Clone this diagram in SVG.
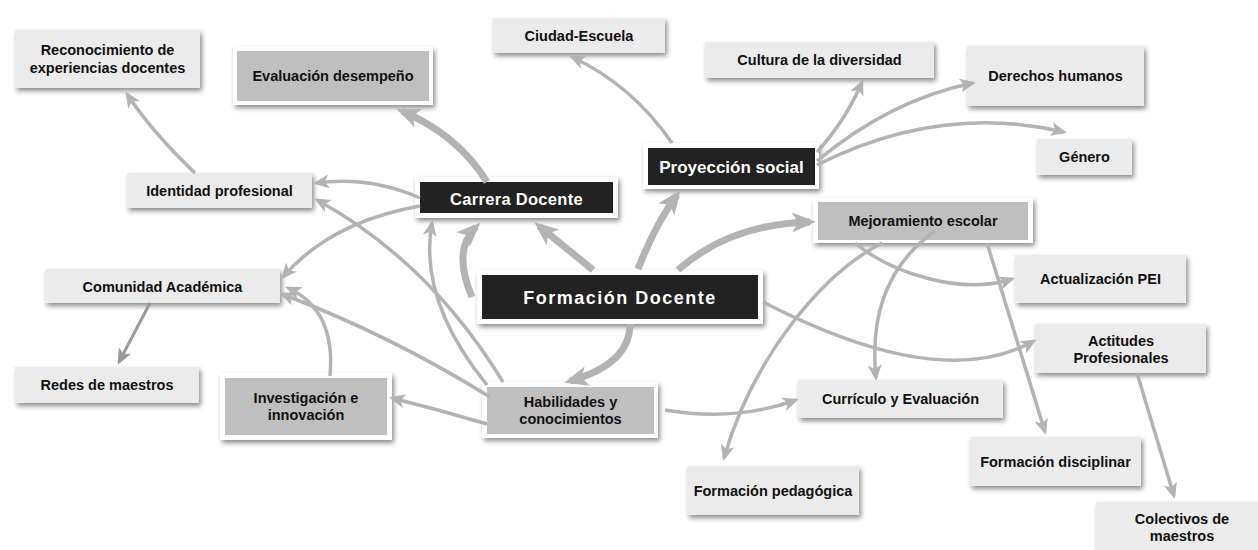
<svg xmlns="http://www.w3.org/2000/svg" width="1258" height="550" viewBox="0 0 1258 550">
  <defs>
    <filter id="shadow" x="-10%" y="-20%" width="125%" height="150%">
      <feDropShadow dx="2" dy="3" stdDeviation="2.5" flood-color="#000" flood-opacity="0.45"/>
    </filter>
    <marker id="arrow" markerUnits="userSpaceOnUse" viewBox="0 0 16 14" markerWidth="16" markerHeight="14" refX="13" refY="7" orient="auto">
      <path d="M0,0 L16,7 L0,14 L4,7 z" fill="#b3b3b3"/>
    </marker>
    <marker id="arrow-dark" markerUnits="userSpaceOnUse" viewBox="0 0 16 14" markerWidth="16" markerHeight="14" refX="13" refY="7" orient="auto">
      <path d="M0,0 L16,7 L0,14 L4,7 z" fill="#9a9a9a"/>
    </marker>
    <marker id="arrow-thick" markerUnits="userSpaceOnUse" viewBox="0 0 24 20" markerWidth="24" markerHeight="20" refX="18" refY="10" orient="auto">
      <path d="M0,0 L24,10 L0,20 L6,10 z" fill="#b3b3b3"/>
    </marker>
  </defs>
  <style>
    .box { fill: #ebebeb; filter: url(#shadow); }
    .frame { fill: #ffffff; filter: url(#shadow); }
    .gray { fill: #bfbfbf; }
    .dark { fill: #222222; }
    text { font-family: "Liberation Sans", Arial, Helvetica, sans-serif; font-weight: bold; text-anchor: middle; }
    .lbl { font-size: 14.5px; fill: #111111; }
    .lbl-w { fill: #ffffff; }
    .ln { fill: none; stroke: #b3b3b3; stroke-width: 3.5; marker-end: url(#arrow); }
    .ln-dark { fill: none; stroke: #9a9a9a; stroke-width: 3; marker-end: url(#arrow-dark); }
    .ln-thick { fill: none; stroke: #b3b3b3; stroke-width: 7; marker-end: url(#arrow-thick); }
  </style>

  <rect width="1258" height="550" fill="#ffffff"/>

  <!-- Nodes -->
  <g id="reconocimiento">
    <rect class="box" x="15" y="30" width="185" height="58"/>
    <text class="lbl" x="107.5" y="55">Reconocimiento de</text>
    <text class="lbl" x="107.5" y="73">experiencias docentes</text>
  </g>
  <g id="evaluacion">
    <rect class="frame" x="233" y="47" width="200" height="58"/>
    <rect class="gray" x="237" y="51" width="192" height="50"/>
    <text class="lbl" x="333" y="81">Evaluación desempeño</text>
  </g>
  <g id="identidad">
    <rect class="box" x="127" y="173" width="185" height="35"/>
    <text class="lbl" x="219.5" y="196">Identidad profesional</text>
  </g>
  <g id="carrera">
    <rect class="frame" x="415" y="177" width="203" height="41"/>
    <rect class="dark" x="420" y="182" width="193" height="31"/>
    <text class="lbl-w" x="516.5" y="205" font-size="16.5" letter-spacing="0.3">Carrera Docente</text>
  </g>
  <g id="ciudad">
    <rect class="box" x="493" y="18" width="172" height="35"/>
    <text class="lbl" x="579" y="41">Ciudad-Escuela</text>
  </g>
  <g id="proyeccion">
    <rect class="frame" x="643" y="143" width="176" height="46"/>
    <rect class="dark" x="648" y="148" width="167" height="37"/>
    <text class="lbl-w" x="731.5" y="173" font-size="17">Proyección social</text>
  </g>
  <g id="cultura">
    <rect class="box" x="705" y="42" width="229" height="36"/>
    <text class="lbl" x="819.5" y="65">Cultura de la diversidad</text>
  </g>
  <g id="derechos">
    <rect class="box" x="967" y="46" width="177" height="60"/>
    <text class="lbl" x="1055.5" y="81">Derechos humanos</text>
  </g>
  <g id="genero">
    <rect class="box" x="1037" y="139" width="95" height="36"/>
    <text class="lbl" x="1084.5" y="162">Género</text>
  </g>
  <g id="mejoramiento">
    <rect class="frame" x="813" y="198" width="220" height="45"/>
    <rect class="gray" x="818" y="202" width="210" height="38"/>
    <text class="lbl" x="923" y="226">Mejoramiento escolar</text>
  </g>
  <g id="actualizacion">
    <rect class="box" x="1015" y="255" width="171" height="48"/>
    <text class="lbl" x="1100.5" y="284">Actualización PEI</text>
  </g>
  <g id="actitudes">
    <rect class="box" x="1035" y="324" width="171" height="49"/>
    <text class="lbl" x="1121" y="346">Actitudes</text>
    <text class="lbl" x="1121" y="363">Profesionales</text>
  </g>
  <g id="curriculo">
    <rect class="box" x="798" y="380" width="205" height="38"/>
    <text class="lbl" x="900.5" y="404">Currículo y Evaluación</text>
  </g>
  <g id="disciplinar">
    <rect class="box" x="970" y="437" width="171" height="49"/>
    <text class="lbl" x="1055.5" y="467">Formación disciplinar</text>
  </g>
  <g id="colectivos">
    <rect class="box" x="1096" y="502" width="172" height="60"/>
    <text class="lbl" x="1182" y="524">Colectivos de</text>
    <text class="lbl" x="1182" y="541">maestros</text>
  </g>
  <g id="pedagogica">
    <rect class="box" x="687" y="466" width="172" height="49"/>
    <text class="lbl" x="773" y="496">Formación pedagógica</text>
  </g>
  <g id="formacion-docente">
    <rect class="frame" x="477" y="270" width="286" height="54"/>
    <rect class="dark" x="482" y="275" width="276" height="44"/>
    <text class="lbl-w" x="620" y="304" font-size="18" letter-spacing="1.5">Formación Docente</text>
  </g>
  <g id="habilidades">
    <rect class="frame" x="482" y="382" width="176" height="56"/>
    <rect class="gray" x="487" y="387" width="167" height="47"/>
    <text class="lbl" x="570.5" y="407">Habilidades y</text>
    <text class="lbl" x="570.5" y="424">conocimientos</text>
  </g>
  <g id="comunidad">
    <rect class="box" x="45" y="269" width="235" height="34"/>
    <text class="lbl" x="162.5" y="292">Comunidad Académica</text>
  </g>
  <g id="redes">
    <rect class="box" x="15" y="367" width="184" height="36"/>
    <text class="lbl" x="107" y="390">Redes de maestros</text>
  </g>
  <g id="investigacion">
    <rect class="frame" x="220" y="373" width="172" height="67"/>
    <rect class="gray" x="225" y="378" width="162" height="57"/>
    <text class="lbl" x="306" y="403">Investigación e</text>
    <text class="lbl" x="306" y="420">innovación</text>
  </g>

  <!-- Connectors -->
  <g id="connectors">
    <path class="ln" d="M195,173 Q152,132 127,94"/>
    <path class="ln-thick" d="M487,182 Q458,135 402,111"/>
    <path class="ln" d="M420,198 Q370,176 316,183"/>
    <path class="ln" d="M420,206 Q330,222 283,277"/>
    <path class="ln" d="M503,382 Q430,262 317,200"/>
    <path class="ln" d="M487,385 Q418,300 432,223"/>
    <path class="ln-thick" d="M472,297 Q452,250 476,227"/>
    <path class="ln-thick" d="M593,270 L539,226"/>
    <path class="ln-thick" d="M638,269 Q655,225 677,195"/>
    <path class="ln-thick" d="M678,270 Q730,224 810,222"/>
    <path class="ln-thick" d="M630,324 Q630,364 570,381"/>
    <path class="ln" d="M763,302 C860,352 960,382 1034,341"/>
    <path class="ln" d="M672,143 Q632,85 572,57"/>
    <path class="ln" d="M817,152 Q846,120 862,82"/>
    <path class="ln" d="M817,161 Q890,100 973,83"/>
    <path class="ln" d="M817,165 Q940,103 1064,132"/>
    <path class="ln" d="M855,243 C890,272 960,296 1012,279"/>
    <path class="ln" d="M882,243 C820,275 752,360 724,458"/>
    <path class="ln" d="M935,231 Q866,280 876,378"/>
    <path class="ln" d="M987,243 Q1015,335 1045,432"/>
    <path class="ln" d="M1137,373 L1174,496"/>
    <path class="ln" d="M665,410 Q735,422 796,400"/>
    <path class="ln-dark" d="M150,303 L119,362"/>
    <path class="ln" d="M330,376 Q336,310 288,288"/>
    <path class="ln" d="M490,397 Q390,335 282,294"/>
    <path class="ln" d="M487,424 Q440,410 392,398"/>
  </g>
</svg>
